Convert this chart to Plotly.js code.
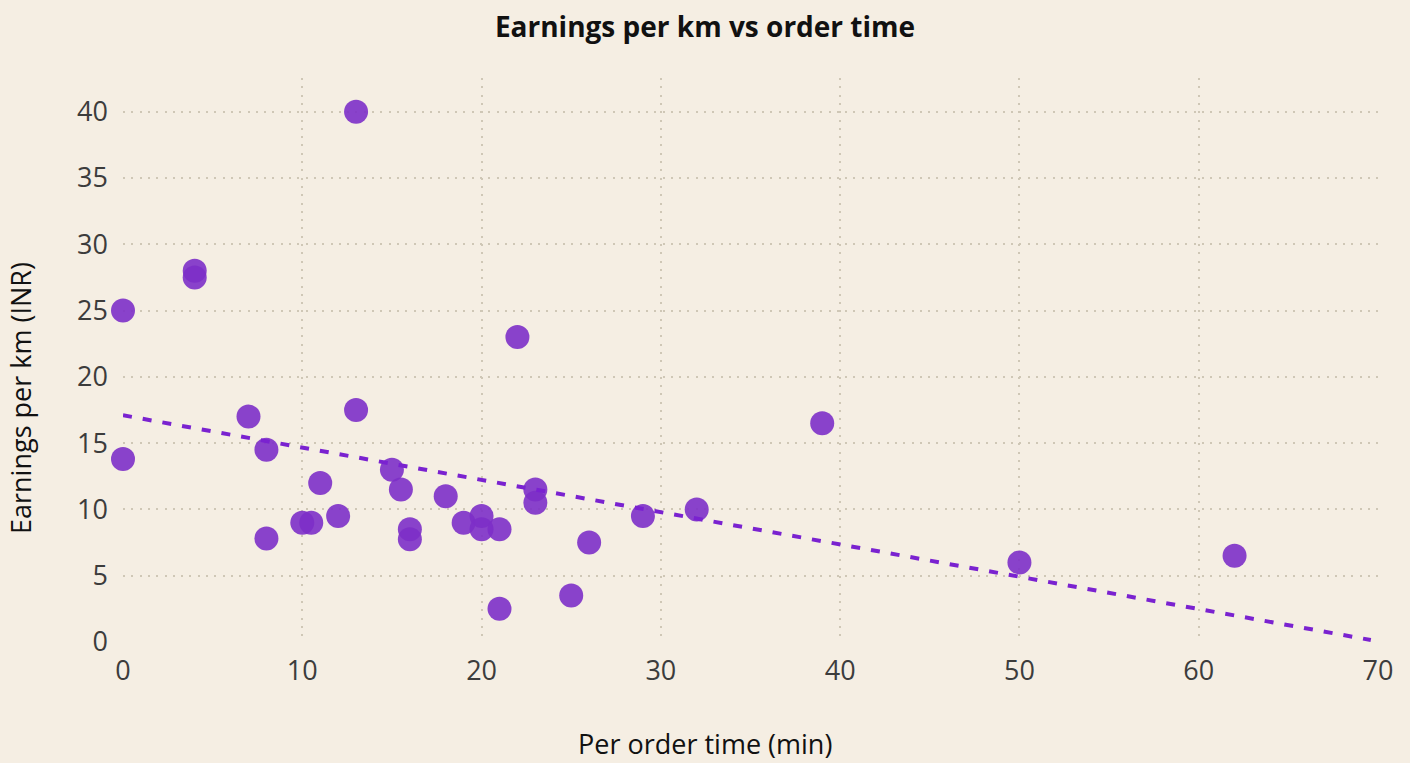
<!DOCTYPE html>
<html>
<head>
<meta charset="utf-8">
<script src="https://cdn.plot.ly/plotly-3.0.1.min.js"></script>
<style>html,body{margin:0;padding:0;background:#f5eee3;}#chart{width:1410px;height:763px;}</style>
</head>
<body>
<div id="chart"></div>
<script>
const orderTime = [0, 0, 4, 4, 7, 8, 8, 10, 10.5, 11, 12, 13, 13, 15, 15.5, 16, 16, 18, 19, 20, 20, 21, 21, 22, 23, 23, 25, 26, 29, 32, 39, 50, 62];
const earningsPerKm = [25, 13.8, 28, 27.5, 17, 14.5, 7.8, 9, 9, 12, 9.5, 40, 17.5, 13, 11.5, 8.5, 7.75, 11, 9, 9.5, 8.5, 8.5, 2.5, 23, 11.5, 10.5, 3.5, 7.5, 9.5, 10, 16.5, 6, 6.5];
const trendX = [0, 69.6];
const trendY = [17.1, 0.15];
const xTicks = [0, 10, 20, 30, 40, 50, 60, 70];
const yTicks = [0, 5, 10, 15, 20, 25, 30, 35, 40];

const data = [
  {
    x: orderTime, y: earningsPerKm, type: 'scatter', mode: 'markers',
    marker: {size: 24, color: '#7d2fc8', opacity: 0.9},
    cliponaxis: false, showlegend: false, hoverinfo: 'x+y'
  },
  {
    x: trendX, y: trendY, type: 'scatter', mode: 'lines',
    line: {color: '#7a22d0', width: 4, dash: '9px,11px'},
    showlegend: false, hoverinfo: 'skip'
  }
];

const gridStyle = {showgrid: true, gridcolor: '#cfc7b6', gridwidth: 2, griddash: '2px,6.3px', zeroline: false, showline: false, ticks: ''};

const layout = {
  width: 1410, height: 763,
  paper_bgcolor: '#f5eee3', plot_bgcolor: '#f5eee3',
  margin: {l: 123, r: 32, t: 78, b: 121},
  title: {text: '<b>Earnings per km vs order time</b>', x: 0.5, xanchor: 'center', y: 0.965, yanchor: 'middle',
          font: {family: 'Open Sans', size: 28, color: '#111111'}},
  font: {family: 'Open Sans', color: '#333333'},
  xaxis: Object.assign({}, gridStyle, {
    range: [0, 70], tickvals: xTicks, ticktext: xTicks.map(String),
    tickfont: {size: 27, color: '#3c3c3c'}, ticklabelstandoff: 10
  }),
  yaxis: Object.assign({}, gridStyle, {
    range: [0, 42.54], tickvals: yTicks, ticktext: yTicks.map(String),
    tickfont: {size: 27, color: '#3c3c3c'}, ticklabelstandoff: 14
  }),
  annotations: [
    {text: 'Per order time (min)', xref: 'paper', yref: 'paper', x: (705 - 123) / 1255, y: -(743 - 642) / 564,
     xanchor: 'center', yanchor: 'middle', showarrow: false, font: {family: 'Open Sans', size: 27, color: '#111111'}},
    {text: 'Earnings per km (INR)', xref: 'paper', yref: 'paper', x: -(123 - 21) / 1255, y: (642 - 398) / 564,
     xanchor: 'center', yanchor: 'middle', textangle: -90, showarrow: false, font: {family: 'Open Sans', size: 27, color: '#111111'}}
  ]
};

Plotly.newPlot('chart', data, layout, {displayModeBar: false, staticPlot: true});
</script>
</body>
</html>
